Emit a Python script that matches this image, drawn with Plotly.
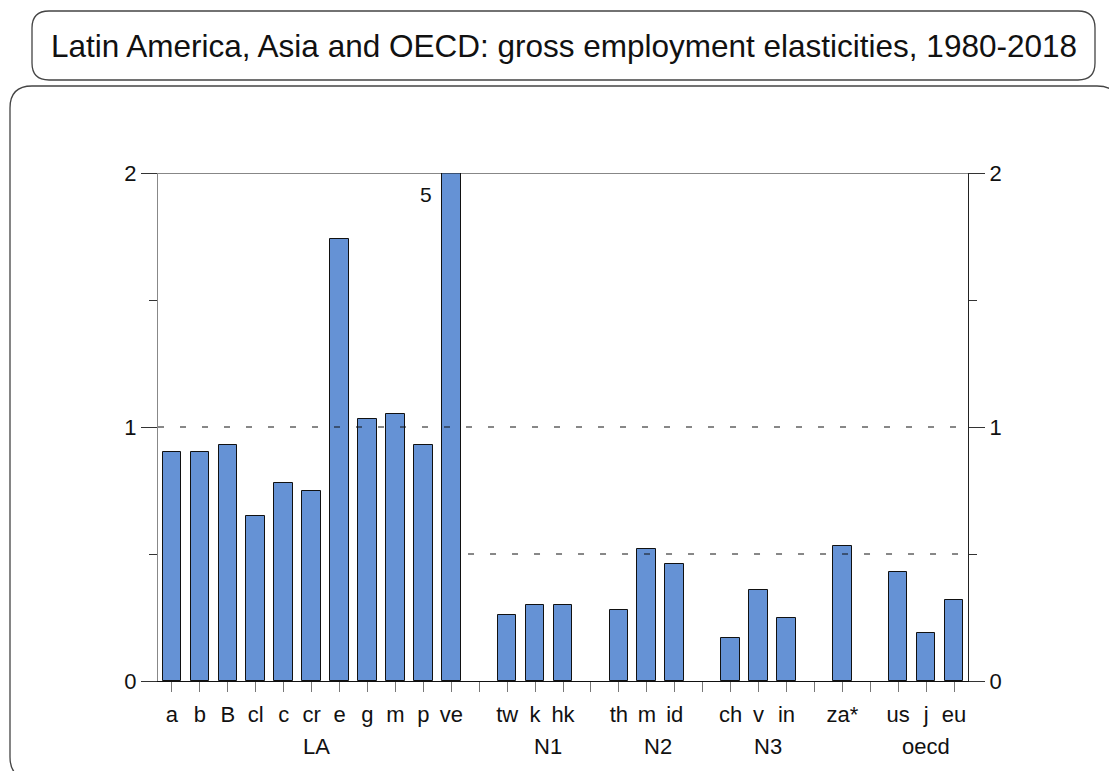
import plotly.graph_objects as go

# Country codes, grouped by region (a gap slot separates each block)
labels = ["a", "b", "B", "cl", "c", "cr", "e", "g", "m", "p", "ve",
          "tw", "k", "hk",
          "th", "m", "id",
          "ch", "v", "in",
          "za*",
          "us", "j", "eu"]
block_sizes = [11, 3, 3, 3, 1, 3]

# Gross employment elasticities, 1980-2018
elasticities = [0.90, 0.90, 0.93, 0.65, 0.78, 0.75, 1.74, 1.03, 1.05, 0.93, 5.0,
                0.26, 0.30, 0.30,
                0.28, 0.52, 0.46,
                0.17, 0.36, 0.25,
                0.53,
                0.43, 0.19, 0.32]

group_names = ["LA", "N1", "N2", "N3", "oecd"]
group_label_x = [5.17, 13.47, 17.41, 21.35, 27.0]

Y_MAX = 2

# slot positions with one empty slot between blocks
xpos = []
slot = 0
for n in block_sizes:
    for _ in range(n):
        xpos.append(slot)
        slot += 1
    slot += 1
n_slots = slot - 1  # trailing gap not used

W, H = 1109, 771
L, R, T, B = 158, 968, 173, 681
FONT = "Liberation Sans, Arial, Helvetica, sans-serif"
BAR_COLOR = "#6592D5"
LABEL_SIZE = 22


def px(x):
    return (x - L) / (R - L)


def py(y):
    return (B - y) / (B - T)


def rounded_rect(x0, y0, x1, y1, r):
    rx = r / (R - L)
    ry = r / (B - T)
    a0, a1 = px(x0), px(x1)
    b0, b1 = py(y0), py(y1)  # b0 top, b1 bottom
    return (f"M {a0 + rx},{b0} L {a1 - rx},{b0} Q {a1},{b0} {a1},{b0 - ry} "
            f"L {a1},{b1 + ry} Q {a1},{b1} {a1 - rx},{b1} "
            f"L {a0 + rx},{b1} Q {a0},{b1} {a0},{b1 + ry} "
            f"L {a0},{b0 - ry} Q {a0},{b0} {a0 + rx},{b0} Z")


fig = go.Figure()
fig.add_trace(go.Bar(
    x=xpos, y=elasticities, width=0.667,
    marker=dict(color=BAR_COLOR, line=dict(color="#111", width=1)),
    hoverinfo="x+y", showlegend=False,
))
# invisible trace to activate the right-hand axis
fig.add_trace(go.Scatter(x=[xpos[0]], y=[0], yaxis="y2", mode="markers",
                         marker=dict(opacity=0), showlegend=False, hoverinfo="skip"))

tickvals = list(range(n_slots))
ticktext = [""] * n_slots
for xv, lab in zip(xpos, labels):
    ticktext[xv] = lab

yaxis_common = dict(
    range=[0, Y_MAX], tickvals=[0, 1, 2], ticktext=["0", "1", "2"],
    ticks="outside", ticklen=16, tickwidth=1, tickcolor="#333",
    showgrid=False, zeroline=False, showline=True, linewidth=1.2,
    tickfont=dict(family=FONT, size=LABEL_SIZE, color="#111"),
    minor=dict(tickvals=[0.5, 1.5], ticks="outside", ticklen=8, tickcolor="#333", showgrid=False),
    fixedrange=True,
)

fig.update_layout(
    width=W, height=H,
    margin=dict(l=L, r=W - R, t=T, b=H - B, autoexpand=False),
    paper_bgcolor="white", plot_bgcolor="white",
    bargap=0,
    xaxis=dict(
        range=[-0.5, n_slots - 0.5], tickvals=tickvals, ticktext=ticktext,
        ticks="outside", ticklen=10, tickwidth=1, tickcolor="#777",
        showline=True, linecolor="#111", linewidth=1.2,
        showgrid=False, zeroline=False,
        tickfont=dict(family=FONT, size=LABEL_SIZE, color="#111"),
        tickangle=0, fixedrange=True, ticklabelstandoff=3,
    ),
    yaxis=dict(**yaxis_common, side="left", linecolor="#888"),
    yaxis2=dict(**yaxis_common, side="right", overlaying="y", linecolor="#222"),
)

shapes = [
    # top border line at y = 2
    dict(type="line", xref="x", yref="y", x0=-0.5, x1=n_slots - 0.5, y0=Y_MAX, y1=Y_MAX,
         line=dict(color="#111", width=1.2)),
    # reference lines
    dict(type="line", xref="x", yref="y", x0=-0.5, x1=n_slots - 0.5, y0=1, y1=1,
         line=dict(color="#111", width=1, dash="6px,16px")),
    dict(type="line", xref="x", yref="y", x0=10.6, x1=n_slots - 0.5, y0=0.5, y1=0.5,
         line=dict(color="#111", width=1, dash="6px,16px")),
    # title box and outer frame
    dict(type="path", xref="paper", yref="paper", path=rounded_rect(32, 11, 1095, 80, 17),
         line=dict(color="#444", width=1.3)),
    dict(type="path", xref="paper", yref="paper", path=rounded_rect(10, 86, 1119, 779, 22),
         line=dict(color="#444", width=1.3)),
]
fig.update_layout(shapes=shapes)

annotations = [
    dict(text="Latin America, Asia and OECD: gross employment elasticities, 1980-2018",
         xref="paper", yref="paper", x=px(564), y=py(46), xanchor="center", yanchor="middle",
         showarrow=False, font=dict(family=FONT, size=31.5, color="#111")),
]
# value label for the bar that runs off the top of the scale
for xv, v in zip(xpos, elasticities):
    if v > Y_MAX:
        annotations.append(dict(text=f"{v:g}", x=xv, y=Y_MAX, xref="x", yref="y",
                                xanchor="right", yanchor="top", xshift=-17, yshift=-8,
                                showarrow=False, font=dict(family=FONT, size=21, color="#111")))
for name, gx in zip(group_names, group_label_x):
    annotations.append(dict(text=name, x=gx, y=py(746), xref="x", yref="paper",
                            xanchor="center", yanchor="middle", showarrow=False,
                            font=dict(family=FONT, size=LABEL_SIZE, color="#111")))
fig.update_layout(annotations=annotations)

fig.write_html("out.html")
